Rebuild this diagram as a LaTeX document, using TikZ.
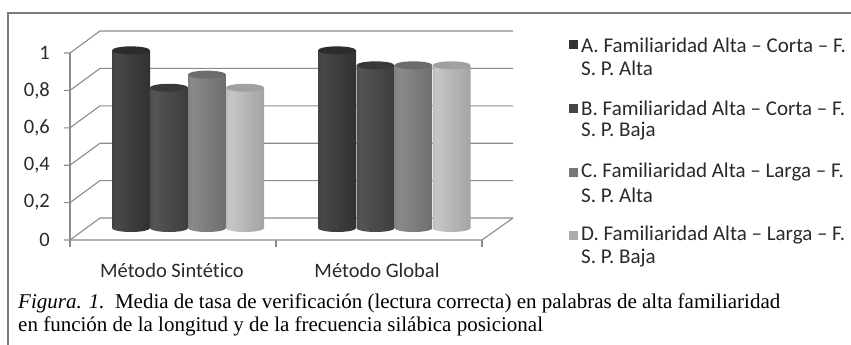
\documentclass[tikz,border=0pt]{standalone}
\usepackage{fontspec}
\setmainfont{Carlito}[Ligatures=NoCommon]
\newfontfamily\capfont{Liberation Serif}
\definecolor{framec}{HTML}{7A7A7A}
\definecolor{gridc}{HTML}{8C8C8C}
\definecolor{txtc}{HTML}{2A2A2A}
\definecolor{aL}{HTML}{1E1E1E}\definecolor{aM}{HTML}{484848}\definecolor{aR}{HTML}{252525}
\definecolor{bL}{HTML}{2A2A2A}\definecolor{bM}{HTML}{545454}\definecolor{bR}{HTML}{303030}
\definecolor{cL}{HTML}{555555}\definecolor{cM}{HTML}{8A8A8A}\definecolor{cR}{HTML}{5E5E5E}
\definecolor{dL}{HTML}{858585}\definecolor{dM}{HTML}{C6C6C6}\definecolor{dR}{HTML}{909090}
\definecolor{aT}{HTML}{2C2C2C}\definecolor{bT}{HTML}{393939}\definecolor{cT}{HTML}{6C6C6C}\definecolor{dT}{HTML}{A0A0A0}
\definecolor{aS}{HTML}{333333}\definecolor{bS}{HTML}{454545}\definecolor{cS}{HTML}{777777}\definecolor{dS}{HTML}{ABABAB}
\pgfdeclarehorizontalshading{shA}{100bp}{color(0bp)=(aL); color(30bp)=(aM); color(100bp)=(aR)}
\pgfdeclarehorizontalshading{shB}{100bp}{color(0bp)=(bL); color(30bp)=(bM); color(100bp)=(bR)}
\pgfdeclarehorizontalshading{shC}{100bp}{color(0bp)=(cL); color(30bp)=(cM); color(100bp)=(cR)}
\pgfdeclarehorizontalshading{shD}{100bp}{color(0bp)=(dL); color(30bp)=(dM); color(100bp)=(dR)}
\newcommand\cylbar[4]{%
  \pgfmathsetmacro\cyltop{228-187*#2}%
  \shade[shading=#3] (#1,\cyltop) -- (#1,228) arc[start angle=180,end angle=360,x radius=19pt,y radius=4pt] -- ({#1+38},\cyltop) -- cycle;
  \fill[#4] ({#1+19},\cyltop) ellipse[x radius=19pt,y radius=4pt];
}
\tikzset{
  gridline/.style={draw=gridc,line width=1.1pt},
  framel/.style={draw=framec,line width=1.3pt},
  chartfont/.style={font=\fontsize{20.5}{23.5}\selectfont,text=txtc,inner sep=0pt},
  legtext/.style={font=\fontsize{21}{23.5}\selectfont,text=txtc,inner sep=0pt,anchor=west},
  captext/.style={font=\capfont\fontsize{21}{24}\selectfont,anchor=west,inner sep=0pt,text=black}
}
\begin{document}
\begin{tikzpicture}[x=1pt,y=-1pt]
\useasboundingbox (0,0) rectangle (851,345);
\fill[white] (0,0) rectangle (851,345);
% frame
\draw[framel] (8,345) -- (8,13) -- (851,13);
% grid walls
\foreach \k in {0,...,5}{
  \pgfmathsetmacro\yf{240-37.4*\k}
  \pgfmathsetmacro\yb{218-37.4*\k}
  \draw[gridline] (64,\yf) -- (70,\yf) -- (100,\yb) -- (513,\yb);
}
\draw[gridline] (70,{240-37.4*5}) -- (70,247);
\draw[gridline] (70,240) -- (482,240) -- (513,218);
\draw[gridline] (276,240) -- (276,247);
\draw[gridline] (482,240) -- (482,247);
% y labels
\node[chartfont,anchor=east] (y0) at (50,240) {0};
\node[chartfont,anchor=east] (y1) at (50,202.6) {0,2};
\node[chartfont,anchor=east] (y2) at (50,165.2) {0,4};
\node[chartfont,anchor=east] (y3) at (50,127.8) {0,6};
\node[chartfont,anchor=east] (y4) at (50,90.4) {0,8};
\node[chartfont,anchor=east] (y5) at (50,53) {1};
% bars group 1
\cylbar{112}{0.95}{shA}{aT}
\cylbar{150}{0.75}{shB}{bT}
\cylbar{188}{0.82}{shC}{cT}
\cylbar{226}{0.75}{shD}{dT}
% bars group 2
\cylbar{318}{0.95}{shA}{aT}
\cylbar{356.5}{0.87}{shB}{bT}
\cylbar{394.5}{0.87}{shC}{cT}
\cylbar{432.5}{0.87}{shD}{dT}
% x labels
\node[chartfont] (xs) at (172,270) {Método Sintético};
\node[chartfont] (xg) at (377,270) {Método Global};
% legend
\fill[aS] (569,40.5) rectangle (578,49.5);
\node[legtext] (la1) at (581,45) {A. Familiaridad Alta – Corta – F.};
\node[legtext] (la2) at (581,68.5) {S. P. Alta};
\fill[bS] (569,103.5) rectangle (578,112.5);
\node[legtext] (lb1) at (581,108) {B. Familiaridad Alta – Corta – F.};
\node[legtext] (lb2) at (581,131.5) {S. P. Baja};
\fill[cS] (569,167.5) rectangle (578,176.5);
\node[legtext] (lc1) at (581,172) {C. Familiaridad Alta – Larga – F.};
\node[legtext] (lc2) at (581,195.5) {S. P. Alta};
\fill[dS] (569,230.5) rectangle (578,239.5);
\node[legtext] (ld1) at (581,235) {D. Familiaridad Alta – Larga – F.};
\node[legtext] (ld2) at (581,258.5) {S. P. Baja};
% caption
\node[captext] (cap1) at (18,303) {\textit{Figura. 1.}\ \ Media de tasa de verificación (lectura correcta) en palabras de alta familiaridad};
\node[captext] (cap2) at (18,326) {en función de la longitud y de la frecuencia silábica posicional};
\end{tikzpicture}
\end{document}
